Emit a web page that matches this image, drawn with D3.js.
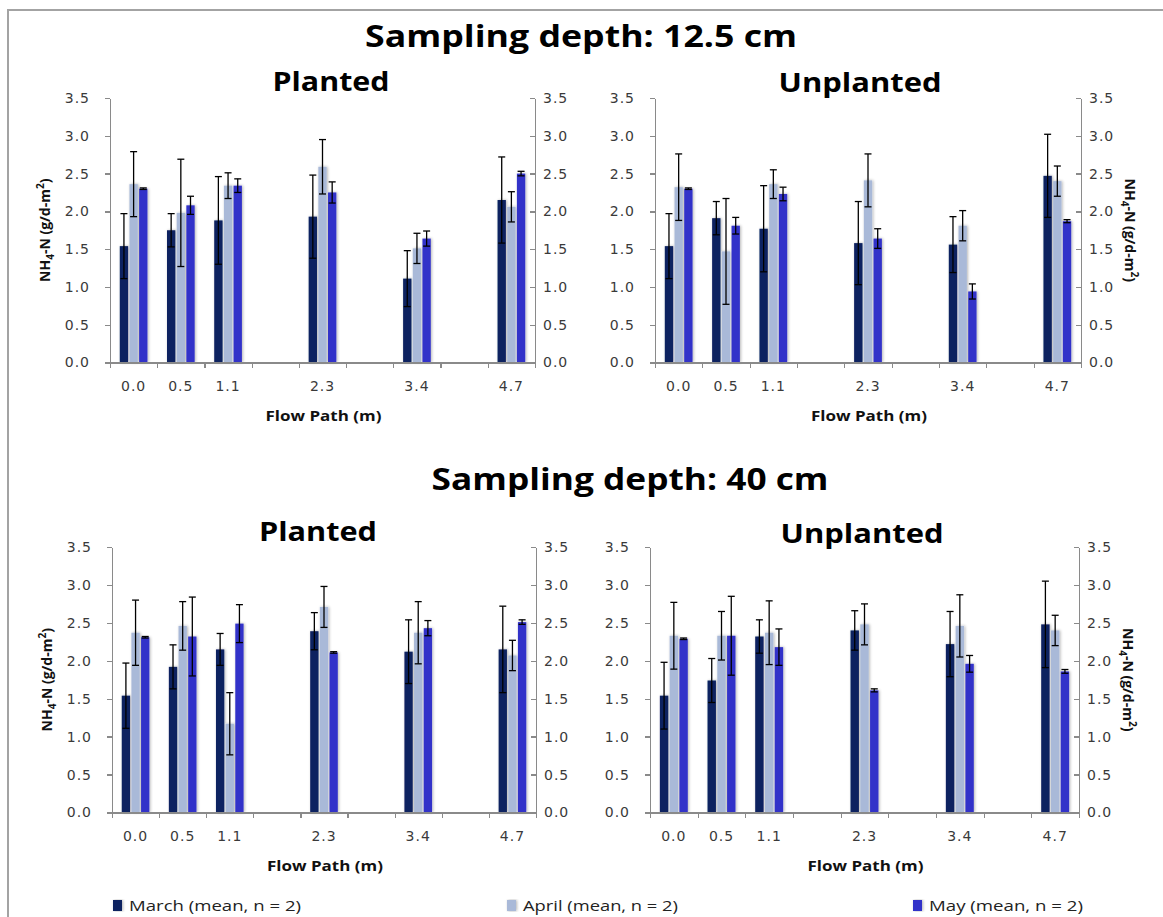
<!DOCTYPE html>
<html>
<head>
<meta charset="utf-8">
<script src="https://cdn.jsdelivr.net/npm/d3@7"></script>
<style>
  body { margin: 0; background: #fff; }
  svg { display: block; }
  .axis path, .axis line { stroke: #8a8a8a; stroke-width: 1.3; shape-rendering: crispEdges; }
  .axis text { font-family: "DejaVu Sans", Verdana, sans-serif; font-size: 14px; fill: #3a3a3a; letter-spacing: 1px; }
  .title { font-family: "Open Sans", "Noto Sans", sans-serif; font-weight: bold; fill: #000; }
  .label { font-family: "Open Sans", "Noto Sans", sans-serif; font-weight: bold; fill: #111; }
  .legend text { font-family: "Open Sans", "Noto Sans", sans-serif; font-size: 15px; fill: #222; }
</style>
</head>
<body>
<svg id="chart"></svg>
<script>
// Chart data
const months = ["March", "April", "May"];
const monthColors = ["#0c2260", "#a9b9d8", "#3333c9"];
const legendLabels = ["March (mean, n = 2)", "April (mean, n = 2)", "May (mean, n = 2)"];
const xLabels = ["0.0", "0.5", "1.1", "", "2.3", "", "3.4", "", "4.7"];
const flowPaths = ["0.0", "0.5", "1.1", "2.3", "3.4", "4.7"];
const yTicks = [0, 0.5, 1, 1.5, 2, 2.5, 3, 3.5];

// Sampling depth 12.5 cm (rows: March, April, May)
const shallowPlantedMean = [
    [1.54, 1.75, 1.88, 1.93, 1.11, 2.15],
    [2.36, 1.98, 2.34, 2.59, 1.51, 2.06],
    [2.30, 2.08, 2.34, 2.25, 1.64, 2.50]];
const shallowPlantedErr = [
    [0.43, 0.22, 0.58, 0.55, 0.37, 0.57],
    [0.43, 0.71, 0.17, 0.36, 0.20, 0.20],
    [0.01, 0.12, 0.09, 0.14, 0.10, 0.03]];
const shallowUnplantedMean = [
    [1.54, 1.91, 1.77, 1.58, 1.56, 2.47],
    [2.32, 1.47, 2.36, 2.41, 1.81, 2.40],
    [2.30, 1.81, 2.23, 1.64, 0.94, 1.87]];
const shallowUnplantedErr = [
    [0.43, 0.22, 0.57, 0.55, 0.37, 0.55],
    [0.44, 0.70, 0.19, 0.35, 0.20, 0.20],
    [0.01, 0.11, 0.09, 0.13, 0.10, 0.02]];

// Sampling depth 40 cm
const deepPlantedMean = [
    [1.54, 1.92, 2.15, 2.39, 2.12, 2.15],
    [2.37, 2.46, 1.17, 2.71, 2.37, 2.07],
    [2.31, 2.32, 2.49, 2.11, 2.43, 2.51]];
const deepPlantedErr = [
    [0.43, 0.29, 0.21, 0.245, 0.42, 0.57],
    [0.43, 0.32, 0.41, 0.27, 0.41, 0.20],
    [0.01, 0.52, 0.25, 0.01, 0.10, 0.03]];
const deepUnplantedMean = [
    [1.54, 1.74, 2.32, 2.40, 2.22, 2.48],
    [2.33, 2.33, 2.37, 2.48, 2.46, 2.40],
    [2.29, 2.33, 2.18, 1.61, 1.96, 1.86]];
const deepUnplantedErr = [
    [0.44, 0.29, 0.22, 0.26, 0.43, 0.57],
    [0.44, 0.32, 0.42, 0.27, 0.41, 0.20],
    [0.01, 0.52, 0.24, 0.02, 0.11, 0.025]];

const W = 1163, H = 917;
const svg = d3.select("#chart").attr("width", W).attr("height", H);

// soft grey shadow like the Excel bars
const filter = svg.append("defs").append("filter").attr("id", "barShadow")
    .attr("x", "-50%").attr("y", "-5%").attr("width", "200%").attr("height", "110%");
filter.append("feGaussianBlur").attr("in", "SourceAlpha").attr("stdDeviation", 1.6).attr("result", "blur");
filter.append("feOffset").attr("dx", 1).attr("dy", 0).attr("result", "off");
filter.append("feComponentTransfer").append("feFuncA").attr("type", "linear").attr("slope", 0.3);
const merge = filter.append("feMerge");
merge.append("feMergeNode");
merge.append("feMergeNode").attr("in", "SourceGraphic");

// outer frame
svg.append("path").attr("d", `M8,${H} V10 H${W}`)
    .attr("fill", "none").attr("stroke", "#a3a3a3").attr("stroke-width", 2);

// section titles
svg.append("text").attr("class", "title").attr("x", 581).attr("y", 47)
    .attr("text-anchor", "middle").attr("font-size", 31)
    .attr("textLength", 432).attr("lengthAdjust", "spacingAndGlyphs")
    .text("Sampling depth: 12.5 cm");
svg.append("text").attr("class", "title").attr("x", 630).attr("y", 490)
    .attr("text-anchor", "middle").attr("font-size", 31)
    .attr("textLength", 397).attr("lengthAdjust", "spacingAndGlyphs")
    .text("Sampling depth: 40 cm");

const panels = [
    { mean: shallowPlantedMean, err: shallowPlantedErr, title: "Planted", side: "left",
      x0: 110, x1: 535, y0: 98, y1: 362.5, tx: 331, ty: 91, tw: 117 },
    { mean: shallowUnplantedMean, err: shallowUnplantedErr, title: "Unplanted", side: "right",
      x0: 655, x1: 1081, y0: 98, y1: 362.5, tx: 860, ty: 92, tw: 163 },
    { mean: deepPlantedMean, err: deepPlantedErr, title: "Planted", side: "left",
      x0: 112, x1: 536, y0: 547, y1: 812.5, tx: 318, ty: 541, tw: 118 },
    { mean: deepUnplantedMean, err: deepUnplantedErr, title: "Unplanted", side: "right",
      x0: 650, x1: 1079, y0: 547, y1: 812.5, tx: 862, ty: 543, tw: 163 }
];

panels.forEach(drawPanel);
drawLegend();

function drawPanel(p) {
    const g = svg.append("g");
    const x = d3.scaleBand().domain(d3.range(xLabels.length)).range([p.x0, p.x1]).padding(0);
    const xSub = d3.scaleBand().domain(months).range([0, x.bandwidth()]).paddingInner(0).paddingOuter(0.94);
    const xEdges = d3.scaleLinear().domain([0, xLabels.length]).range([p.x0, p.x1]);
    const y = d3.scaleLinear().domain([0, 3.5]).range([p.y1, p.y0]);

    // panel title
    g.append("text").attr("class", "title").attr("x", p.tx).attr("y", p.ty)
        .attr("text-anchor", "middle").attr("font-size", 27)
        .attr("textLength", p.tw).attr("lengthAdjust", "spacingAndGlyphs")
        .text(p.title);

    // bars
    const rows = [];
    months.forEach((m, mi) => {
        flowPaths.forEach((fp, fi) => {
            rows.push({ month: m, color: monthColors[mi], slot: xLabels.indexOf(fp),
                        value: p.mean[mi][fi], err: p.err[mi][fi] });
        });
    });
    const bw = xSub.bandwidth() * 0.86;
    g.append("g").attr("filter", "url(#barShadow)")
        .selectAll("rect").data(rows).enter().append("rect")
        .attr("x", d => x(d.slot) + xSub(d.month) + (xSub.bandwidth() - bw) / 2)
        .attr("y", d => y(d.value))
        .attr("width", bw)
        .attr("height", d => y(0) - y(d.value))
        .attr("fill", d => d.color);

    // error bars
    const eb = g.append("g").attr("stroke", "#000").attr("stroke-width", 1.3)
        .selectAll("g").data(rows).enter().append("g");
    const cx = d => x(d.slot) + xSub(d.month) + xSub.bandwidth() / 2;
    eb.append("line").attr("x1", cx).attr("x2", cx)
        .attr("y1", d => y(d.value + d.err)).attr("y2", d => y(d.value - d.err));
    eb.append("line").attr("x1", d => cx(d) - 3.5).attr("x2", d => cx(d) + 3.5)
        .attr("y1", d => y(d.value + d.err)).attr("y2", d => y(d.value + d.err));
    eb.append("line").attr("x1", d => cx(d) - 3.5).attr("x2", d => cx(d) + 3.5)
        .attr("y1", d => y(d.value - d.err)).attr("y2", d => y(d.value - d.err));

    // axes
    g.append("g").attr("class", "axis").attr("transform", `translate(${p.x0},0)`)
        .call(d3.axisLeft(y).tickValues(yTicks).tickFormat(d3.format(".1f"))
            .tickSizeInner(5).tickSizeOuter(0).tickPadding(15));
    g.append("g").attr("class", "axis").attr("transform", `translate(${p.x1},0)`)
        .call(d3.axisRight(y).tickValues(yTicks).tickFormat(d3.format(".1f"))
            .tickSizeInner(-5).tickSizeOuter(0).tickPadding(8));
    g.append("g").attr("class", "axis").attr("transform", `translate(0,${p.y1})`)
        .call(d3.axisBottom(xEdges).tickValues(d3.range(xLabels.length + 1))
            .tickFormat("").tickSizeInner(5).tickSizeOuter(0));
    const xa = g.append("g").attr("class", "axis").attr("transform", `translate(0,${p.y1})`)
        .call(d3.axisBottom(x).tickFormat(i => xLabels[i]).tickSize(0).tickPadding(19));
    xa.select(".domain").remove();

    // axis titles
    g.append("text").attr("class", "label").attr("x", (p.x0 + p.x1) / 2 + 1).attr("y", p.y1 + 58)
        .attr("text-anchor", "middle").attr("font-size", 14.5)
        .attr("textLength", 116).attr("lengthAdjust", "spacingAndGlyphs")
        .text("Flow Path (m)");

    const yc = (p.y0 + p.y1) / 2;
    const yl = p.side === "left"
        ? g.append("text").attr("transform", `translate(${p.x0 - 60},${yc}) rotate(-90)`)
        : g.append("text").attr("transform", `translate(${p.x1 + 44},${yc}) rotate(90)`);
    yl.attr("class", "label").attr("text-anchor", "middle").attr("font-size", 14);
    yl.append("tspan").text("NH");
    yl.append("tspan").attr("font-size", 10).attr("dy", 4).text("4");
    yl.append("tspan").attr("dy", -4).text("-N (g/d-m");
    yl.append("tspan").attr("font-size", 10).attr("dy", -6).text("2");
    yl.append("tspan").attr("dy", 6).text(")");
}

function drawLegend() {
    const lx = [113, 507, 913];
    const widths = [172, 155, 154];
    const lg = svg.append("g").attr("class", "legend")
        .selectAll("g").data(months).enter().append("g")
        .attr("transform", (d, i) => `translate(${lx[i]},900)`);
    lg.append("rect").attr("width", 9).attr("height", 11)
        .attr("fill", (d, i) => monthColors[i]).attr("filter", "url(#barShadow)");
    lg.append("text").attr("x", 16).attr("y", 11)
        .attr("textLength", (d, i) => widths[i]).attr("lengthAdjust", "spacingAndGlyphs")
        .text((d, i) => legendLabels[i]);
}
</script>
</body>
</html>
